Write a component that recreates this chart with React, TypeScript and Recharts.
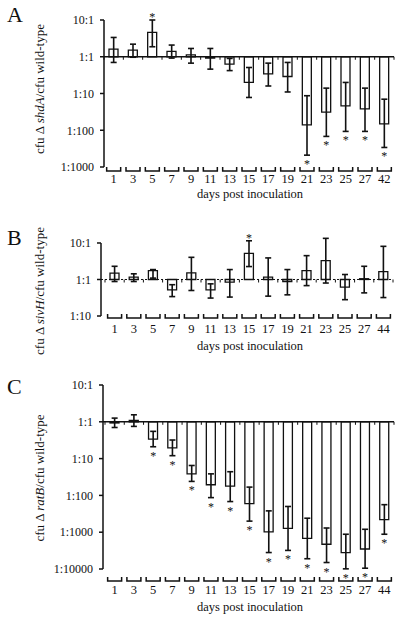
import React from 'react';
import { ComposedChart, Bar, Line, ErrorBar, XAxis, YAxis, ReferenceLine } from 'recharts';

const FONT = '"Liberation Serif", "Times New Roman", Times, serif';

// A: shdA
const daysA = [1, 3, 5, 7, 9, 11, 13, 15, 17, 19, 21, 23, 25, 27, 42];
const meanA = [1.62, 1.52, 4.6, 1.4, 1.13, 0.92, 0.63, 0.2, 0.34, 0.29, 0.014, 0.031, 0.046, 0.038, 0.015];
const lowA = [0.7, 0.97, 1.87, 0.92, 0.67, 0.46, 0.42, 0.078, 0.16, 0.11, 0.0021, 0.0068, 0.0093, 0.0093, 0.0034];
const highA = [3.35, 2.2, 10, 2.08, 1.68, 1.68, 0.9, 0.51, 0.67, 0.7, 0.087, 0.14, 0.2, 0.14, 0.07];
const sigA = [5, 21, 23, 25, 27, 42];
const ticksA = [0.001, 0.01, 0.1, 1, 10];

// B: sivH
const daysB = [1, 3, 5, 7, 9, 11, 13, 15, 17, 19, 21, 23, 25, 27, 44];
const meanB = [1.5, 1.16, 1.76, 0.52, 1.52, 0.52, 0.85, 5.2, 1.16, 0.88, 1.76, 3.3, 0.62, 1.05, 1.65];
const lowB = [0.88, 0.88, 1.09, 0.34, 0.5, 0.31, 0.33, 2.26, 0.35, 0.38, 0.68, 0.8, 0.28, 0.43, 0.32];
const highB = [2.3, 1.43, 1.87, 0.72, 4.05, 0.76, 1.87, 11.5, 3.9, 1.87, 4.5, 13.4, 1.37, 2.3, 8.1];
const sigB = [15];
const ticksB = [0.1, 1, 10];

// C: ratB
const daysC = [1, 3, 5, 7, 9, 11, 13, 15, 17, 19, 21, 23, 25, 27, 44];
const meanC = [0.93, 1.1, 0.34, 0.195, 0.0385, 0.0195, 0.0178, 0.006, 0.00102, 0.00127, 0.00068, 0.00047, 0.00028, 0.00035, 0.0022];
const lowC = [0.7, 0.75, 0.21, 0.12, 0.024, 0.0087, 0.0068, 0.002, 0.00028, 0.00032, 0.00019, 0.00015, 0.000101, 0.000105, 0.00088];
const highC = [1.26, 1.55, 0.55, 0.32, 0.065, 0.0385, 0.044, 0.0168, 0.0038, 0.005, 0.0024, 0.0013, 0.00088, 0.0012, 0.0056];
const sigC = [5, 7, 9, 11, 13, 15, 17, 19, 21, 23, 25, 27, 44];
const ticksC = [0.0001, 0.001, 0.01, 0.1, 1, 10];

type Row = { day: number; mean: number; low: number; high: number; sig: boolean };

const makeRows = (days: number[], mean: number[], low: number[], high: number[], sig: number[]): Row[] =>
  days.map((day, i) => ({ day, mean: mean[i], low: low[i], high: high[i], sig: sig.includes(day) }));

const ratio = (v: number) => (v >= 1 ? `${v}:1` : `1:${Math.round(1 / v)}`);

type PanelProps = {
  rows: Row[];
  ticks: number[];
  domain: [number, number];
  top: number;
  height: number;
  marginTop: number;
  marginRight: number;
  axisWidth: number;
  padLeft: number;
  xHeight: number;
  bracketDy: number;
  labelDy: number;
  dashed?: boolean;
};

function Panel(p: PanelProps) {
  const n = p.rows.length;

  const renderTick = (t: any) => {
    const { x, y, payload } = t;
    const b = y + p.bracketDy;
    return (
      <g>
        <path d={`M${x - 7},${b} L${x - 7},${b + 4} L${x + 7},${b + 4} L${x + 7},${b}`} fill="none" stroke="#111" strokeWidth={1.5} />
        <text x={x} y={y + p.labelDy} textAnchor="middle" fontSize={12.5} fontFamily={FONT} fill="#111">
          {payload.value}
        </text>
      </g>
    );
  };

  const renderStar = (d: any) => {
    if (d.cy == null || d.value == null || Number.isNaN(d.cy)) return <g key={d.index} />;
    const up = d.payload.mean >= 1;
    return (
      <text key={d.index} x={d.cx} y={up ? d.cy + 1 : d.cy + 13} textAnchor="middle" fontSize={12} fontFamily={FONT} fill="#111">
        *
      </text>
    );
  };

  const oneLine = (s: any) => {
    const band = (s.x2 - s.x1 - p.padLeft) / n;
    const marks = [];
    for (let i = 0; i <= n; i++) {
      const x = s.x1 + p.padLeft + i * band;
      marks.push(<line key={i} x1={x} x2={x} y1={s.y1} y2={s.y1 + 3} stroke="#111" strokeWidth={1} />);
    }
    return (
      <g>
        <line x1={s.x1} x2={s.x2} y1={s.y1} y2={s.y2} stroke="#111" strokeWidth={p.dashed ? 1 : 1.5} strokeDasharray={p.dashed ? '2 2' : undefined} />
        {marks}
      </g>
    );
  };

  return (
    <div style={{ position: 'absolute', left: 0, top: p.top }}>
      <ComposedChart
        width={400}
        height={p.height}
        data={p.rows}
        margin={{ top: p.marginTop, right: p.marginRight, bottom: 0, left: 0 }}
      >
        <XAxis
          dataKey="day"
          type="category"
          axisLine={false}
          tickLine={false}
          tickSize={0}
          tickMargin={0}
          interval={0}
          height={p.xHeight}
          padding={{ left: p.padLeft, right: 0 }}
          tick={renderTick}
        />
        <YAxis
          type="number"
          scale="log"
          domain={p.domain}
          ticks={p.ticks}
          tickFormatter={ratio}
          width={p.axisWidth}
          axisLine={false}
          tickLine={{ stroke: '#111', strokeWidth: 1.5 }}
          tickSize={4}
          tickMargin={6}
          tick={{ fontSize: 12, fontFamily: FONT, fill: '#111' }}
        />
        <Bar
          dataKey={(d: Row) => (d.mean >= 1 ? [1, d.mean] : [d.mean, 1])}
          barSize={9}
          fill="#fff"
          stroke="#111"
          strokeWidth={1.3}
          isAnimationActive={false}
        />
        <Line dataKey="mean" stroke="none" dot={false} activeDot={false} isAnimationActive={false}>
          <ErrorBar
            dataKey={(d: Row) => [d.mean - d.low, d.high - d.mean]}
            width={3}
            stroke="#111"
            strokeWidth={1.6}
          />
        </Line>
        <Line
          dataKey={(d: Row) => (d.sig ? (d.mean >= 1 ? d.high : d.low) : null)}
          stroke="none"
          dot={renderStar}
          activeDot={false}
          isAnimationActive={false}
        />
        <ReferenceLine y={1} ifOverflow="visible" shape={oneLine} />
        <ReferenceLine
          ifOverflow="visible"
          segment={[
            { x: p.rows[0].day, y: p.ticks[0] },
            { x: p.rows[0].day, y: p.ticks[p.ticks.length - 1] },
          ]}
          shape={(s: any) => <line x1={p.axisWidth} x2={p.axisWidth} y1={s.y1} y2={s.y2} stroke="#111" strokeWidth={1.5} />}
        />
      </ComposedChart>
    </div>
  );
}

function YLabel({ y, gene }: { y: number; gene: string }) {
  return (
    <text
      x={44}
      y={y}
      transform={`rotate(-90 44 ${y})`}
      textAnchor="middle"
      fontSize={13}
      fontFamily={FONT}
      fill="#111"
    >
      cfu Δ <tspan fontStyle="italic">{gene}</tspan>/cfu wild-type
    </text>
  );
}

export default function App() {
  const rowsA = makeRows(daysA, meanA, lowA, highA, sigA);
  const rowsB = makeRows(daysB, meanB, lowB, highB, sigB);
  const rowsC = makeRows(daysC, meanC, lowC, highC, sigC);

  return (
    <div style={{ position: 'absolute', left: 0, top: 0, width: 400, height: 618, background: '#fff', overflow: 'hidden' }}>
      <Panel rows={rowsA} ticks={ticksA} domain={[0.001, 10]} top={0} height={207} marginTop={20} marginRight={6}
        axisWidth={104} padLeft={0} xHeight={40} bracketDy={0} labelDy={16} />
      <Panel rows={rowsB} ticks={ticksB} domain={[0.1, 20]} top={210} height={146} marginTop={22} marginRight={7}
        axisWidth={101} padLeft={4} xHeight={40} bracketDy={-2} labelDy={17} dashed />
      <Panel rows={rowsC} ticks={ticksC} domain={[0.0001, 10]} top={360} height={258} marginTop={25} marginRight={6}
        axisWidth={103} padLeft={2} xHeight={49} bracketDy={8} labelDy={25} />
      <svg width={400} height={618} style={{ position: 'absolute', left: 0, top: 0, pointerEvents: 'none' }}>
        <g fontFamily={FONT} fill="#111">
          <text x={7} y={22} fontSize={22}>A</text>
          <text x={7} y={245} fontSize={22}>B</text>
          <text x={7} y={394} fontSize={22}>C</text>
          <text x={250} y={198} textAnchor="middle" fontSize={12.5}>days post inoculation</text>
          <text x={250} y={350} textAnchor="middle" fontSize={12.5}>days post inoculation</text>
          <text x={250} y={611} textAnchor="middle" fontSize={12.5}>days post inoculation</text>
        </g>
        <YLabel y={89} gene="shdA" />
        <YLabel y={291} gene="sivH" />
        <YLabel y={478} gene="ratB" />
      </svg>
    </div>
  );
}
